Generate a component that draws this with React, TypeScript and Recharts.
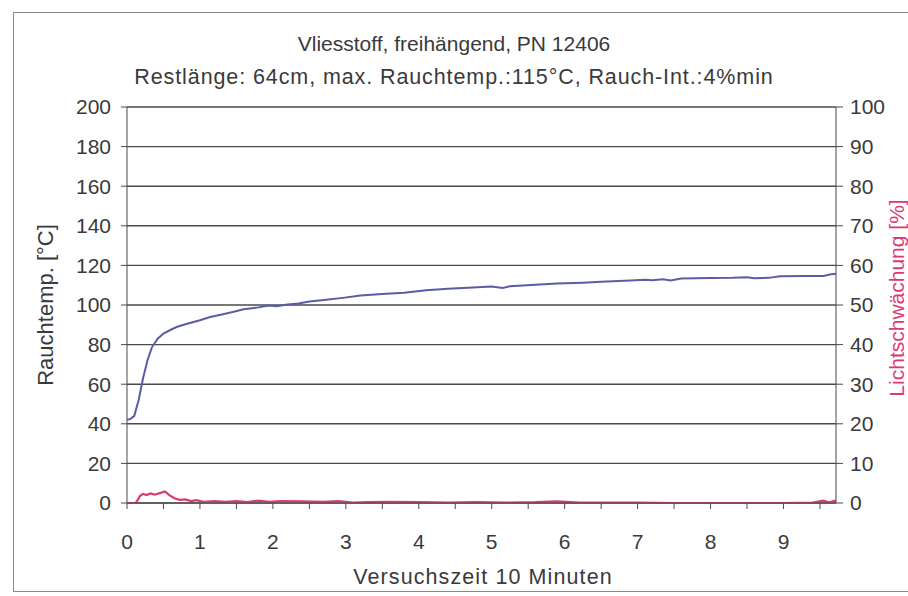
import React from "react";
import { LineChart, Line, XAxis, YAxis, CartesianGrid } from "recharts";

/* Smoke temperature (°C, left axis) */
const tempTime = [
  0, 0.05, 0.1, 0.16, 0.22, 0.28, 0.34, 0.42, 0.5, 0.6, 0.68, 0.8, 0.9, 1.0, 1.14, 1.3, 1.45, 1.6, 1.8,
  1.95, 2.05, 2.2, 2.35, 2.5, 2.7, 2.96, 3.2, 3.5, 3.8, 4.1, 4.4, 4.74, 5.0, 5.15, 5.25, 5.6, 5.9, 6.25,
  6.5, 6.9, 7.1, 7.2, 7.35, 7.45, 7.6, 8.0, 8.3, 8.5, 8.6, 8.8, 8.95, 9.3, 9.55, 9.65, 9.72,
];
const tempValues = [
  42, 42.5, 44, 52, 63, 72, 78.5, 83, 85.6, 87.5, 88.9, 90.3, 91.3, 92.3, 93.9, 95.2, 96.5, 97.8, 98.8,
  99.7, 99.4, 100.3, 100.8, 101.8, 102.5, 103.6, 104.8, 105.5, 106.2, 107.5, 108.2, 108.8, 109.3, 108.6,
  109.5, 110.2, 110.8, 111.3, 111.8, 112.4, 112.8, 112.5, 113.0, 112.4, 113.4, 113.6, 113.7, 114.0, 113.5,
  113.7, 114.5, 114.6, 114.7, 115.5, 115.8,
];

/* Light attenuation (%, right axis) */
const lightTime = [
  0, 0.12, 0.18, 0.22, 0.27, 0.32, 0.38, 0.45, 0.52, 0.58, 0.65, 0.72, 0.8, 0.88, 0.95, 1.05, 1.2, 1.35,
  1.5, 1.65, 1.8, 1.95, 2.1, 2.4, 2.7, 2.9, 3.1, 3.3, 3.6, 4.0, 4.4, 4.8, 5.2, 5.6, 5.9, 6.2, 6.6, 7.0,
  7.5, 8.0, 8.5, 9.0, 9.4, 9.55, 9.62, 9.72,
];
const lightValues = [
  0, 0, 1.8, 2.3, 2.0, 2.4, 2.1, 2.5, 2.9, 2.0, 1.2, 0.8, 0.9, 0.5, 0.7, 0.3, 0.5, 0.3, 0.5, 0.2, 0.6,
  0.3, 0.5, 0.4, 0.3, 0.5, 0.1, 0.2, 0.3, 0.2, 0.1, 0.2, 0.1, 0.2, 0.4, 0.1, 0.1, 0.1, 0, 0, 0, 0, 0.1,
  0.6, 0.2, 0.6,
];

const xTicks = [0, 0.5, 1, 1.5, 2, 2.5, 3, 3.5, 4, 4.5, 5, 5.5, 6, 6.5, 7, 7.5, 8, 8.5, 9, 9.5];
const leftTicks = [0, 20, 40, 60, 80, 100, 120, 140, 160, 180, 200];
const rightTicks = [0, 10, 20, 30, 40, 50, 60, 70, 80, 90, 100];

const tempData = tempTime.map((t, i) => ({ t, temp: tempValues[i] }));
const lightData = lightTime.map((t, i) => ({ t, light: lightValues[i] }));

const FONT = "'Liberation Sans', Arial, sans-serif";
const TEXT = "#3a3a3a";
const GRID = "#4a4a4a";
const BLUE = "#5a5ca6";
const PINK = "#dc3a76";
const FS = 21;

export default function App() {
  return (
    <div
      style={{
        position: "absolute",
        left: 0,
        top: 0,
        width: 908,
        height: 596,
        background: "#ffffff",
        fontFamily: FONT,
        overflow: "hidden",
      }}
    >
      {/* scanned frame around the chart */}
      <div
        style={{
          position: "absolute",
          left: 13,
          top: 12,
          width: 920,
          height: 578,
          border: "1.5px solid #8a8a8a",
        }}
      />

      {/* two-line title */}
      <div style={{ position: "absolute", left: 0, width: 908, top: 32, textAlign: "center", fontSize: 21, color: TEXT }}>
        Vliesstoff, freihängend, PN 12406
      </div>
      <div
        style={{
          position: "absolute",
          left: 0,
          width: 908,
          top: 65,
          textAlign: "center",
          fontSize: 21.5,
          letterSpacing: 0.9,
          color: TEXT,
        }}
      >
        Restlänge: 64cm, max. Rauchtemp.:115°C, Rauch-Int.:4%min
      </div>

      {/* right axis title, pink */}
      <div
        style={{
          position: "absolute",
          left: 897,
          top: 298,
          transform: "translate(-50%, -50%) rotate(-90deg)",
          whiteSpace: "nowrap",
          fontSize: FS,
          color: PINK,
        }}
      >
        Lichtschwächung [%]
      </div>

      {/* x axis title */}
      <div
        style={{
          position: "absolute",
          left: 0,
          width: 908,
          top: 565,
          paddingLeft: 58,
          boxSizing: "border-box",
          textAlign: "center",
          fontSize: 21.5,
          letterSpacing: 1.1,
          color: TEXT,
        }}
      >
        Versuchszeit 10 Minuten
      </div>

      <div style={{ position: "absolute", left: 0, top: 0 }}>
        <LineChart width={908} height={596} margin={{ top: 107, right: 22, bottom: 0, left: 67 }}>
          <CartesianGrid yAxisId="left" vertical={false} stroke={GRID} strokeWidth={1.4} />
          <XAxis
            xAxisId={0}
            type="number"
            dataKey="t"
            domain={[0, 9.72]}
            ticks={xTicks}
            allowDataOverflow
            tickFormatter={(v: number) => (Number.isInteger(v) ? String(v) : "")}
            stroke={GRID}
            tick={{ fill: TEXT, fontSize: FS, fontFamily: FONT }}
            tickSize={6}
            tickMargin={25}
            height={93}
          />
          <YAxis
            yAxisId="left"
            orientation="left"
            domain={[0, 200]}
            ticks={leftTicks}
            stroke={GRID}
            width={60}
            tick={{ fill: TEXT, fontSize: FS, fontFamily: FONT }}
            tickSize={6}
            tickMargin={10}
            label={{ value: "Rauchtemp. [°C]", angle: -90, position: "insideLeft", offset: -22, fill: TEXT, fontSize: 22, fontFamily: FONT, style: { textAnchor: "middle" } }}
          />
          <YAxis
            yAxisId="right"
            orientation="right"
            domain={[0, 100]}
            ticks={rightTicks}
            stroke={GRID}
            width={50}
            tick={{ fill: TEXT, fontSize: FS, fontFamily: FONT }}
            tickSize={7}
            tickMargin={7}
          />
          <Line
            yAxisId="left"
            data={tempData}
            dataKey="temp"
            type="linear"
            stroke={BLUE}
            strokeWidth={2}
            dot={false}
            isAnimationActive={false}
          />
          <Line
            yAxisId="right"
            data={lightData}
            dataKey="light"
            type="linear"
            stroke={PINK}
            strokeWidth={2.2}
            dot={false}
            isAnimationActive={false}
          />
        </LineChart>
      </div>
    </div>
  );
}
